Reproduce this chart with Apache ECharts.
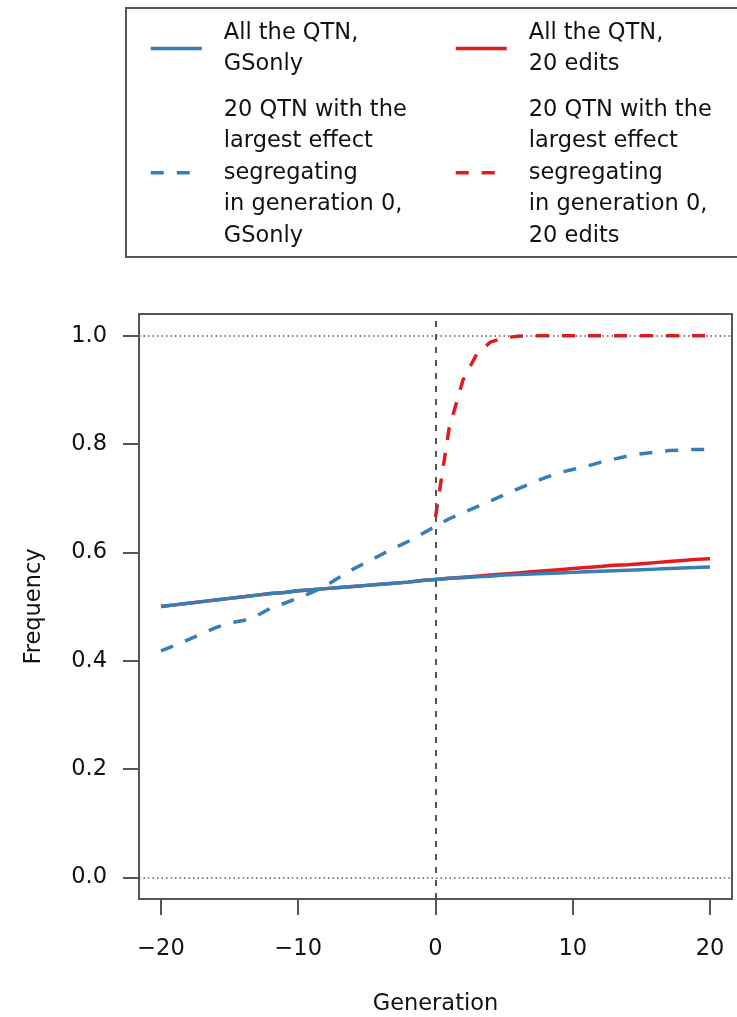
<!DOCTYPE html>
<html>
<head>
<meta charset="utf-8">
<script src="https://cdn.jsdelivr.net/npm/echarts@6/dist/echarts.min.js"></script>
<style>
html,body{margin:0;padding:0;background:#fff;}
#chart{width:737px;height:1017px;}
</style>
</head>
<body>
<div id="chart"></div>
<script>
// ---- data ----
const generations = [-20,-19,-18,-17,-16,-15,-14,-13,-12,-11,-10,-9,-8,-7,-6,-5,-4,-3,-2,-1,0,1,2,3,4,5,6,7,8,9,10,11,12,13,14,15,16,17,18,19,20];
const allGSonly = [0.500,0.503,0.506,0.509,0.512,0.515,0.518,0.521,0.524,0.526,0.529,0.531,0.533,0.535,0.537,0.539,0.541,0.543,0.545,0.548,0.550,
                   0.552,0.553,0.555,0.556,0.558,0.559,0.560,0.561,0.562,0.563,0.564,0.565,0.566,0.567,0.568,0.569,0.570,0.571,0.572,0.573];
const allEdits = [0.500,0.503,0.506,0.509,0.512,0.515,0.518,0.521,0.524,0.526,0.529,0.531,0.533,0.535,0.537,0.539,0.541,0.543,0.545,0.548,0.550,
                  0.552,0.554,0.556,0.558,0.560,0.562,0.564,0.566,0.568,0.570,0.572,0.574,0.576,0.577,0.579,0.581,0.583,0.585,0.587,0.588];
const top20GSonly = [0.418,0.428,0.439,0.450,0.461,0.470,0.474,0.483,0.497,0.506,0.516,0.526,0.538,0.554,0.569,0.582,0.595,0.608,0.620,0.634,0.648,
                     0.662,0.673,0.684,0.695,0.706,0.717,0.728,0.738,0.747,0.753,0.759,0.766,0.772,0.778,0.782,0.785,0.788,0.789,0.790,0.790];
const editGenerations = [0,1,2,3,4,5,6,7,8,9,10,11,12,13,14,15,16,17,18,19,20];
const top20Edits = [0.665,0.830,0.918,0.966,0.988,0.996,0.999,1.000,1.000,1.000,1.000,1.000,1.000,1.000,1.000,1.000,1.000,1.000,1.000,1.000,1.000];
const xTicks = [-20,-10,0,10,20];
const yTicks = [0,0.2,0.4,0.6,0.8,1.0];
const names = {
  allGS: 'All the QTN,\nGSonly',
  allED: 'All the QTN,\n20 edits',
  topGS: '20 QTN with the\nlargest effect\nsegregating\nin generation 0,\nGSonly',
  topED: '20 QTN with the\nlargest effect\nsegregating\nin generation 0,\n20 edits'
};
const BLUE = '#377EB8', RED = '#E41A1C';

const pairs = (xs, ys) => xs.map((x, i) => [x, ys[i]]);
const FONT = 'DejaVu Sans';
const TXT = '#111111';
const AX = '#555555';
const LW = 3.5;
const DASH = [13, 13];

const chart = echarts.init(document.getElementById('chart'));
const legendCommon = {
  orient: 'vertical', padding: 0, itemGap: 14, itemWidth: 51, itemHeight: 14,
  selectedMode: false,
  itemStyle: { opacity: 0, color: 'transparent', borderWidth: 0 },
  lineStyle: { width: LW },
  textStyle: { fontFamily: FONT, fontSize: 22.5, lineHeight: 31.5, color: TXT, padding: [0,0,0,17] }
};
chart.setOption({
  animation: false,
  backgroundColor: '#ffffff',
  graphic: [{
    type: 'rect', silent: true,
    shape: { x: 126, y: 8, width: 650, height: 249 },
    style: { fill: 'none', stroke: AX, lineWidth: 2 }
  }],
  legend: [
    Object.assign({}, legendCommon, { left: 149, top: 17, data: [names.allGS, names.topGS] }),
    Object.assign({}, legendCommon, { left: 454, top: 17, data: [names.allED, names.topED] })
  ],
  grid: {
    left: 139, right: 5, top: 314, bottom: 118,
    show: true, borderColor: AX, borderWidth: 2, backgroundColor: 'transparent',
    containLabel: false, outerBoundsMode: 'none'
  },
  xAxis: {
    type: 'value', min: -21.6, max: 21.6,
    name: 'Generation', nameLocation: 'middle', nameGap: 94,
    nameTextStyle: { fontFamily: FONT, fontSize: 22.5, color: TXT },
    axisLine: { show: false, onZero: false },
    splitLine: { show: false },
    axisTick: { show: true, customValues: xTicks, length: 16, lineStyle: { color: AX, width: 2 } },
    axisLabel: { customValues: xTicks, margin: 39, fontFamily: FONT, fontSize: 22.5, color: TXT,
      formatter: v => (v < 0 ? '\u2212' + Math.abs(v) : String(v)) }
  },
  yAxis: {
    type: 'value', min: -0.04, max: 1.04,
    name: 'Frequency', nameLocation: 'middle', nameGap: 93, nameRotate: 90,
    nameTextStyle: { fontFamily: FONT, fontSize: 22.5, color: TXT },
    axisLine: { show: false, onZero: false },
    splitLine: { show: false },
    axisTick: { show: true, customValues: yTicks, length: 16, lineStyle: { color: AX, width: 2 } },
    axisLabel: { customValues: yTicks, margin: 32, fontFamily: FONT, fontSize: 22.5, color: TXT,
      formatter: v => v.toFixed(1) }
  },
  series: [
    { name: names.allED, type: 'line', data: pairs(generations, allEdits), symbol: 'none', showSymbol: false,
      lineStyle: { color: RED, width: LW }, itemStyle: { color: RED }, z: 2 },
    { name: names.topED, type: 'line', data: pairs(editGenerations, top20Edits), symbol: 'none', showSymbol: false,
      lineStyle: { color: RED, width: LW, type: DASH }, itemStyle: { color: RED }, z: 2 },
    { name: names.allGS, type: 'line', data: pairs(generations, allGSonly), symbol: 'none', showSymbol: false,
      lineStyle: { color: BLUE, width: LW }, itemStyle: { color: BLUE }, z: 3 },
    { name: names.topGS, type: 'line', data: pairs(generations, top20GSonly), symbol: 'none', showSymbol: false,
      lineStyle: { color: BLUE, width: LW, type: DASH }, itemStyle: { color: BLUE }, z: 3,
      markLine: {
        silent: true, symbol: 'none', z: 6, animation: false,
        label: { show: false },
        data: [
          { yAxis: 1, lineStyle: { color: AX, width: 1.5, type: [1.5,3] } },
          { yAxis: 0, lineStyle: { color: AX, width: 1.5, type: [1.5,3] } },
          { xAxis: 0, lineStyle: { color: AX, width: 2, type: [6,7] } }
        ]
      }
    }
  ]
});
</script>
</body>
</html>
